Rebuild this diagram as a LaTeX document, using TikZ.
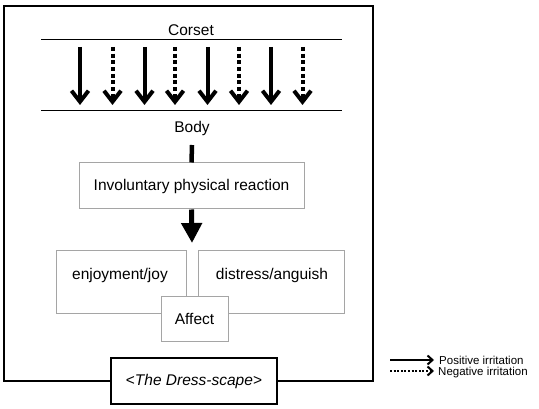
\documentclass[tikz,border=0pt]{standalone}
\usepackage{fontspec}
\setmainfont{Liberation Sans}
\usetikzlibrary{arrows.meta}
\definecolor{boxgray}{RGB}{165,165,165}
\tikzset{
  x=1pt, y=-1pt,
  txt/.style={font=\fontsize{15.5}{18}\selectfont},
  graybox/.style={draw=boxgray, line width=1pt, fill=white, inner sep=0pt, txt},
  label/.style={inner sep=0pt, txt},
  solidarrow/.style={line width=4pt, -{Straight Barb[length=11pt,width=17pt,line width=4pt]}},
  dotarrow/.style={solidarrow, dash pattern=on 4pt off 2.7pt},
  legsolid/.style={line width=2pt, -{Straight Barb[length=5pt,width=9pt,line width=2pt]}},
  legdot/.style={legsolid, dash pattern=on 2pt off 1.6pt},
  legtext/.style={inner sep=0pt, anchor=base west, font=\fontsize{11.5}{13}\selectfont},
}
\begin{document}
\begin{tikzpicture}
\useasboundingbox (0,0) rectangle (539,409);
% Corset / body
\node[label] (corset) at (191,30) {Corset};
\node[label] (body) at (192,128) {Body};
\coordinate (cl) at (41,40);
\coordinate (cr) at (342,40);
\coordinate (bl) at (41,111);
\coordinate (br) at (342,111);
\draw[line width=1pt] (cl) -- (cr);
\draw[line width=1pt] (bl) -- (br);
\foreach \i/\x in {1/80,3/144.5,5/207.5,7/271}{
  \coordinate (t\i) at (\x,47);
  \coordinate (b\i) at (\x,105);
  \draw[solidarrow] (t\i) -- (b\i);
}
\foreach \i/\x in {2/112.5,4/175,6/239,8/302.5}{
  \coordinate (t\i) at (\x,47);
  \coordinate (b\i) at (\x,105);
  \draw[dotarrow] (t\i) -- (b\i);
}
% reaction
\node[graybox, minimum width=225pt, minimum height=46pt] (inv) at (191.5,186) {Involuntary physical reaction};
\coordinate (bodyline) at (192,145);
\draw[line width=4.5pt] (bodyline) -- (inv.north);
\coordinate (affarrow) at (192,243);
\draw[line width=5pt, -{Triangle[length=20pt,width=20pt]}] (inv.south) -- (affarrow);
% affect boxes
\node[graybox, minimum width=130pt, minimum height=63pt] (joy) at (121,282.5) {};
\node[label] (joyt) at (120,275) {enjoyment/joy};
\node[graybox, minimum width=146pt, minimum height=63pt] (dis) at (271,282.5) {};
\node[label] (dist) at (272,275) {distress/anguish};
\node[graybox, minimum width=67pt, minimum height=44pt] (aff) at (194.5,319) {Affect};
% frame and dress-scape
\node[draw, line width=1.5pt, fill=white, minimum width=166pt, minimum height=46pt, inner sep=0pt, txt] (dress) at (194,381) {<\textit{The Dress-scape}>};
\coordinate (fbl) at (4,381);
\coordinate (ftl) at (4,6);
\coordinate (ftr) at (373,6);
\coordinate (fbr) at (373,381);
\draw[line width=1.3pt] (dress.west) -- (fbl) -- (ftl) -- (ftr) -- (fbr) -- (dress.east);
% legend
\coordinate (l1a) at (390,360);
\coordinate (l1b) at (434,360);
\coordinate (l2a) at (390,371);
\coordinate (l2b) at (434,371);
\draw[legsolid] (l1a) -- (l1b);
\draw[legdot] (l2a) -- (l2b);
\node[legtext] (pos) at (439,364) {Positive irritation};
\node[legtext] (neg) at (438,375.2) {Negative irritation};
\end{tikzpicture}
\end{document}
